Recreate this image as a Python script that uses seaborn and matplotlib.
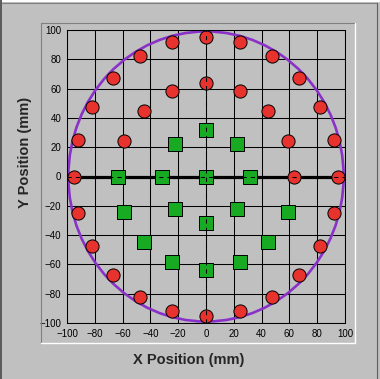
import matplotlib
matplotlib.use('Agg')
import matplotlib.pyplot as plt
from matplotlib.patches import Circle
from matplotlib.lines import Line2D
import numpy as np
import pandas as pd
import seaborn as sns

# red circles: outer ring (24 points) + upper half of middle ring
red_x = [95, 91.8, 82.3, 67.2, 47.5, 24.6, 0, -24.6, -47.5, -67.2, -82.3, -91.8,
         -95, -91.8, -82.3, -67.2, -47.5, -24.6, 0, 24.6, 47.5, 67.2, 82.3, 91.8,
         63.5, 58.7, 44.9, 24.3, 0, -24.3, -44.9, -58.7]
red_y = [0, 24.6, 47.5, 67.2, 82.3, 91.8, 95, 91.8, 82.3, 67.2, 47.5, 24.6,
         0, -24.6, -47.5, -67.2, -82.3, -91.8, -95, -91.8, -82.3, -67.2, -47.5, -24.6,
         0, 24.3, 44.9, 58.7, 63.5, 58.7, 44.9, 24.3]

# green squares: centre, inner ring, lower half of middle ring
green_x = [0, 31.7, 22.4, 0, -22.4, -31.7, -22.4, 0, 22.4,
           -63.5, -58.7, -44.9, -24.3, 0, 24.3, 44.9, 58.7]
green_y = [0, 0, 22.4, 31.7, 22.4, 0, -22.4, -31.7, -22.4,
           0, -24.3, -44.9, -58.7, -63.5, -58.7, -44.9, -24.3]

# scan line along y = 0 and wafer edge
line_x = [-95, 95]
line_y = [0, 0]
edge_radius = 99

ticks = [-100, -80, -60, -40, -20, 0, 20, 40, 60, 80, 100]

bg = '#c0c0c0'
W, H = 380, 379

sns.set_style("white")
plt.rcParams['font.family'] = ['Liberation Sans', 'DejaVu Sans']

fig = plt.figure(figsize=(W / 100, H / 100), dpi=100, facecolor=bg)
ax = fig.add_axes([67 / W, 1 - 323 / H, 278 / W, 293 / H])
ax.set_facecolor(bg)

# frame decorations in pixel coords
def px_line(x0, y0, x1, y1, color, lw=1):
    fig.add_artist(Line2D([x0 / W, x1 / W], [1 - y0 / H, 1 - y1 / H],
                          transform=fig.transFigure, color=color, lw=lw))

px_line(0, 0.5, W, 0.5, 'white', 1.4)
px_line(0.8, 0, 0.8, H, '#5a5a5a', 1.4)
px_line(2, 3, 377, 3, '#808080', 0.8)
px_line(377, 3, 377, H, '#606060', 0.8)
px_line(41, 23, 355, 23, '#808080', 0.8)
px_line(41, 23, 41, 343, '#808080', 0.8)
px_line(355, 23, 355, 343, 'white', 1.0)
px_line(41, 343, 355, 343, 'white', 1.0)

ax.set_xlim(-100, 100)
ax.set_ylim(-100, 100)
ax.set_xticks(ticks)
ax.set_yticks(ticks)
ax.grid(True, color='black', lw=0.75, zorder=0)
ax.set_axisbelow(True)
for s in ax.spines.values():
    s.set_color('black')
    s.set_linewidth(0.75)
ax.tick_params(length=0, labelsize=7, pad=4, colors='black')

ax.add_patch(Circle((0, 0), edge_radius, fill=False, ec='#8a32c8', lw=1.9, zorder=2))
sns.lineplot(x=line_x, y=line_y, ax=ax, color='black', lw=2.3, zorder=3)

sns.scatterplot(x=red_x, y=red_y, ax=ax, marker='o', s=90, color='#e8322e',
                edgecolor='black', linewidth=0.7, zorder=4)
sns.scatterplot(x=green_x, y=green_y, ax=ax, marker='s', s=110, color='#18aa22',
                edgecolor='black', linewidth=0.7, zorder=4)

# dashed centre lines drawn over the markers
ax.plot([-100, 100], [0, 0], color='black', lw=0.75, ls=(0, (4, 4)), zorder=5)
ax.plot([0, 0], [-100, 100], color='black', lw=0.75, ls=(0, (4, 4)), zorder=5)

ax.set_xlabel('')
ax.set_ylabel('')
fig.text(189 / W, 1 - 360 / H, 'X Position (mm)', ha='center', va='center',
         fontsize=10.5, fontweight='bold')
fig.text(25 / W, 1 - 152 / H, 'Y Position (mm)', ha='center', va='center',
         fontsize=10.5, fontweight='bold', rotation=90)

fig.savefig('out.png', dpi=100, facecolor=bg)
